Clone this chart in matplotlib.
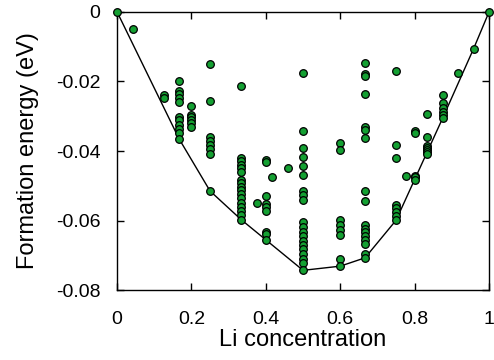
#Formation energy vs Li concentration with the convex hull drawn through the ground states
import matplotlib
matplotlib.use('Agg')
import matplotlib.pyplot as plt

plt.rcParams['font.family'] = ['Liberation Sans', 'DejaVu Sans']

#energies per composition
conc = [0, 1/24, 0.125, 1/6, 0.2, 0.25, 1/3, 0.375, 0.4, 5/12, 11/24, 0.5,
        0.6, 2/3, 0.75, 0.778, 0.8, 5/6, 0.875, 11/12, 23/24, 1]
energies = [
    [0.0],
    [-0.0050],
    [-0.0240, -0.0248],
    [-0.0199, -0.0227, -0.0237, -0.0249, -0.0259, -0.0303, -0.0311, -0.0326,
     -0.0337, -0.0347, -0.0365],
    [-0.0271, -0.0296, -0.0303, -0.0311, -0.0319, -0.0330],
    [-0.0151, -0.0256, -0.0359, -0.0370, -0.0383, -0.0395, -0.0410, -0.0515],
    [-0.0213, -0.0421, -0.0429, -0.0440, -0.0450, -0.0460, -0.0484, -0.0493,
     -0.0503, -0.0513, -0.0524, -0.0536, -0.0549, -0.0560, -0.0571, -0.0583,
     -0.0597],
    [-0.0549],
    [-0.0426, -0.0433, -0.0530, -0.0553, -0.0562, -0.0572, -0.0632, -0.0639,
     -0.0656],
    [-0.0476],
    [-0.0450],
    [-0.0175, -0.0343, -0.0392, -0.0416, -0.0442, -0.0469, -0.0514, -0.0527,
     -0.0541, -0.0603, -0.0618, -0.0632, -0.0645, -0.0658, -0.0670, -0.0683,
     -0.0696, -0.0709, -0.0721, -0.0743],
    [-0.0376, -0.0397, -0.0599, -0.0613, -0.0627, -0.0642, -0.0709, -0.0731],
    [-0.0148, -0.0178, -0.0184, -0.0237, -0.0332, -0.0340, -0.0362, -0.0515,
     -0.0544, -0.0613, -0.0623, -0.0632, -0.0645, -0.0656, -0.0666, -0.0695,
     -0.0707],
    [-0.0169, -0.0383, -0.0419, -0.0555, -0.0565, -0.0575, -0.0587, -0.0599],
    [-0.0471],
    [-0.0342, -0.0348, -0.0471, -0.0475, -0.0482],
    [-0.0294, -0.0359, -0.0386, -0.0392, -0.0398, -0.0404, -0.0410],
    [-0.0239, -0.0261, -0.0277, -0.0287, -0.0296, -0.0306],
    [-0.0175],
    [-0.0106],
    [0.0],
]

#ground states joined by the hull line
hull_x = [0, 1/6, 0.25, 1/3, 0.5, 0.6, 2/3, 0.75, 0.875, 23/24, 1]
hull_y = [0, -0.0365, -0.0515, -0.0597, -0.0743, -0.0731, -0.0707, -0.0599,
          -0.0306, -0.0106, 0]

xticks = [0, 0.2, 0.4, 0.6, 0.8, 1]
xlabels = ['0', '0.2', '0.4', '0.6', '0.8', '1']
yticks = [0, -0.02, -0.04, -0.06, -0.08]
ylabels = ['0', '-0.02', '-0.04', '-0.06', '-0.08']

#flatten into x/y lists
xs, ys = [], []
for c, es in zip(conc, energies):
    for e in es:
        xs.append(c)
        ys.append(e)

fig = plt.figure(figsize=(4.94, 3.6), dpi=100)
ax = fig.add_axes([0.237, 0.194, 0.753, 0.773])

ax.plot(hull_x, hull_y, color='black', lw=1, zorder=2)
ax.plot(xs, ys, 'o', ms=5.5, mfc='#14a032', mec='black', mew=0.9,
        zorder=3, clip_on=False)

ax.set_xlim(0, 1)
ax.set_ylim(-0.08, 0)
ax.set_xticks(xticks)
ax.set_xticklabels(xlabels)
ax.set_yticks(yticks)
ax.set_yticklabels(ylabels)
ax.tick_params(direction='in', length=5, width=1, top=True, right=True,
               labelsize=14)
ax.tick_params(axis='x', pad=15)
ax.tick_params(axis='y', pad=12)
for s in ax.spines.values():
    s.set_linewidth(1)

ax.set_xlabel('Li concentration', fontsize=17, labelpad=1)
ax.set_ylabel('Formation energy (eV)', fontsize=17, labelpad=12)

fig.savefig('out.png', dpi=100)
